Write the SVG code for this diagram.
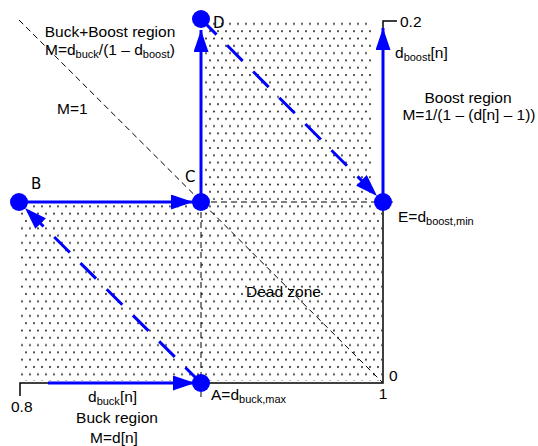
<svg xmlns="http://www.w3.org/2000/svg" width="538" height="446" viewBox="0 0 538 446">
<style>
text{font-family:"Liberation Sans",Arial,sans-serif;font-size:15.5px;fill:#000}
.pt{font-family:"DejaVu Sans",sans-serif;font-size:15px}
.blue{stroke:#0000ff;stroke-width:3;fill:none}
.bdash{stroke:#0000ff;stroke-width:3;fill:none;stroke-dasharray:22 15}
.kdash{stroke:#000;stroke-width:1;fill:none;stroke-dasharray:6 4}
.axis{stroke:#000;stroke-width:1.5;fill:none}
.node{fill:#0000ff}
.dot{fill:#333}
</style>
<defs>
<pattern id="dots" width="16" height="14.6" patternUnits="userSpaceOnUse">
<circle class="dot" cx="2" cy="2" r="1.05"/>
<circle class="dot" cx="10" cy="2" r="1.05"/>
<circle class="dot" cx="6" cy="9.3" r="1.05"/>
<circle class="dot" cx="14" cy="9.3" r="1.05"/>
</pattern>
<marker id="ah" markerUnits="userSpaceOnUse" markerWidth="23" markerHeight="16" refX="22" refY="7.5" orient="auto">
<path d="M0,0 L22,7.5 L0,15 Z" fill="#0000ff"/>
</marker>
</defs>
<g id="regions">
<rect x="204" y="20" width="168" height="180" fill="url(#dots)"/>
<rect x="20" y="204" width="362" height="177" fill="url(#dots)"/>
</g>
<g id="connectors">
<line class="kdash" x1="19" y1="20" x2="382" y2="382"/>
<line class="kdash" x1="201" y1="202" x2="393" y2="202"/>
<line class="kdash" x1="201" y1="202" x2="201" y2="397"/>
<path class="axis" d="M20,396 L20,383 L383,383 L383,202"/>
<path class="axis" d="M383,30 L383,21 L397,21"/>
<line class="blue" x1="201" y1="202" x2="201" y2="30" marker-end="url(#ah)"/>
<line class="blue" x1="19" y1="202" x2="193" y2="202" marker-end="url(#ah)"/>
<line class="blue" x1="48" y1="383" x2="195" y2="383" marker-end="url(#ah)"/>
<line class="blue" x1="383" y1="202" x2="383" y2="28" marker-end="url(#ah)"/>
<line class="bdash" x1="201" y1="19" x2="377" y2="196" marker-end="url(#ah)"/>
<line class="bdash" x1="201" y1="383" x2="25" y2="208" marker-end="url(#ah)"/>
</g>
<g id="D"><circle class="node" cx="201" cy="19" r="9"/><text class="pt" x="213" y="28">D</text></g>
<g id="C"><circle class="node" cx="201" cy="202" r="9"/><text class="pt" x="185" y="182">C</text></g>
<g id="B"><circle class="node" cx="19" cy="202" r="9"/><text class="pt" x="31" y="189">B</text></g>
<g id="E"><circle class="node" cx="383" cy="202" r="9"/><text x="398" y="222" font-size="15">E=d<tspan font-size="11" dy="3">boost,min</tspan></text></g>
<g id="A"><circle class="node" cx="201" cy="383" r="9"/><text x="211" y="400" font-size="15">A=d<tspan font-size="11" dy="3">buck,max</tspan></text></g>
<g id="labels">
<text x="110" y="37" text-anchor="middle">Buck+Boost region</text>
<text x="45" y="55">M=d<tspan font-size="11" dy="3">buck</tspan><tspan dy="-3">/(1 – d</tspan><tspan font-size="11" dy="3">boost</tspan><tspan dy="-3">)</tspan></text>
<text x="57" y="114">M=1</text>
<text x="400" y="27" font-size="14">0.2</text>
<text x="395" y="58" font-size="16">d<tspan font-size="11" dy="3">boost</tspan><tspan dy="-3">[n]</tspan></text>
<text x="468" y="103" text-anchor="middle">Boost region</text>
<text x="469" y="120" text-anchor="middle">M=1/(1 – (d[n] – 1))</text>
<text x="246" y="297" font-size="18.5">Dead zone</text>
<text x="389" y="381" font-size="14">0</text>
<text x="383" y="399" font-size="14" text-anchor="middle">1</text>
<text x="11" y="412" font-size="14">0.8</text>
<text x="88" y="402" font-size="16">d<tspan font-size="11" dy="3">buck</tspan><tspan dy="-3">[n]</tspan></text>
<text x="117" y="423" text-anchor="middle">Buck region</text>
<text x="114" y="443" text-anchor="middle">M=d[n]</text>
</g>
</svg>
